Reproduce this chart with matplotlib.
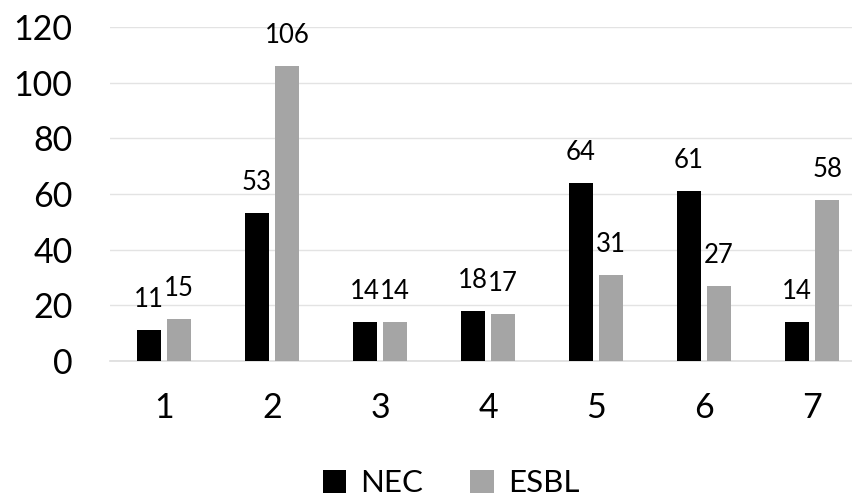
import matplotlib
matplotlib.use("Agg")
import matplotlib.pyplot as plt
import numpy as np

categories = ["1", "2", "3", "4", "5", "6", "7"]
nec = [11, 53, 14, 18, 64, 61, 14]
esbl = [15, 106, 14, 17, 31, 27, 58]
yticks = [0, 20, 40, 60, 80, 100, 120]

plt.rcParams["font.family"] = ["Lato", "DejaVu Sans"]

W, H = 853, 497
fig = plt.figure(figsize=(W / 100, H / 100), dpi=100)
ax = fig.add_axes([110 / W, 136 / H, 756 / W, 334 / H])

x = np.arange(1, len(categories) + 1)
bw = 0.222
off = 0.14
b1 = ax.bar(x - off, nec, bw, color="#000000", label="NEC", zorder=3)
b2 = ax.bar(x + off, esbl, bw, color="#A5A5A5", label="ESBL", zorder=3)

for bars, vals in ((b1, nec), (b2, esbl)):
    for rect, v in zip(bars, vals):
        ax.annotate(str(v), (rect.get_x() + rect.get_width() / 2, v),
                    xytext=(0, 13), textcoords="offset points",
                    ha="center", va="bottom", fontsize=18.5, color="#000000")

ax.set_xlim(0.5, 7.5)
ax.set_ylim(0, 120)
ax.set_yticks(yticks)
ax.set_xticks(x)
ax.set_xticklabels(categories)
ax.yaxis.grid(True, color="#E3E3E3", linewidth=1.0, zorder=0)
ax.set_axisbelow(True)
for s in ("top", "right", "left"):
    ax.spines[s].set_visible(False)
ax.spines["bottom"].set_color("#DDDDDD")
ax.spines["bottom"].set_linewidth(1.2)
ax.tick_params(axis="both", length=0, labelsize=24.5, colors="#000000")
ax.tick_params(axis="y", pad=27)
ax.tick_params(axis="x", pad=22)

fig.legend(handles=[b1, b2], loc="center", bbox_to_anchor=(451 / W, 1 - 483 / H),
           ncol=2, frameon=False, fontsize=22.5, handlelength=0.75, handleheight=0.75,
           handletextpad=0.45, columnspacing=1.5)

fig.savefig("out.png", dpi=100)
